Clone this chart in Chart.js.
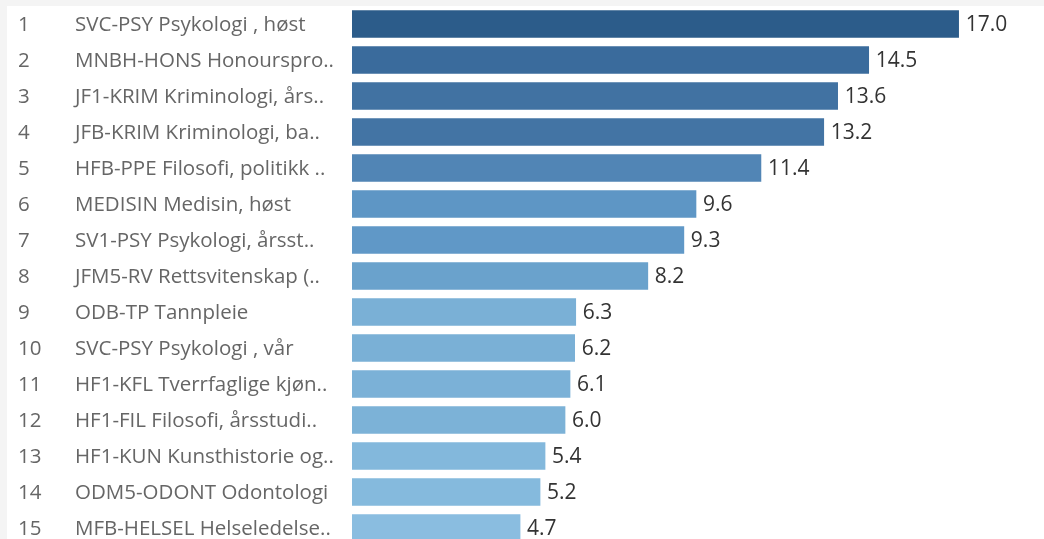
<!DOCTYPE html>
<html>
<head>
<meta charset="utf-8">
<script src="https://cdn.jsdelivr.net/npm/chart.js@4"></script>
<style>
  html, body { margin: 0; padding: 0; background: #f4f4f4; overflow: hidden; width: 1044px; height: 539px; }
  #wrap { position: absolute; left: 7px; top: 6px; width: 1037px; height: 540px; background: #ffffff; }
  canvas { display: block; }
</style>
</head>
<body>
<div id="wrap"><canvas id="c" width="1037" height="540"></canvas></div>
<script>
const ranks = ['1','2','3','4','5','6','7','8','9','10','11','12','13','14','15'];
const programs = [
  'SVC-PSY Psykologi , høst',
  'MNBH-HONS Honourspro..',
  'JF1-KRIM Kriminologi, års..',
  'JFB-KRIM Kriminologi, ba..',
  'HFB-PPE Filosofi, politikk ..',
  'MEDISIN Medisin, høst',
  'SV1-PSY Psykologi, årsst..',
  'JFM5-RV Rettsvitenskap (..',
  'ODB-TP Tannpleie',
  'SVC-PSY Psykologi , vår',
  'HF1-KFL Tverrfaglige kjøn..',
  'HF1-FIL Filosofi, årsstudi..',
  'HF1-KUN Kunsthistorie og..',
  'ODM5-ODONT Odontologi',
  'MFB-HELSEL Helseledelse..'
];
const values = [17.0, 14.48, 13.61, 13.22, 11.46, 9.64, 9.30, 8.29, 6.27, 6.24, 6.11, 5.97, 5.41, 5.27, 4.71];
const valueLabels = ['17.0','14.5','13.6','13.2','11.4','9.6','9.3','8.2','6.3','6.2','6.1','6.0','5.4','5.2','4.7'];

const barColors = ['#2c5c8a','#3a6b9c','#4172a2','#4374a4','#5185b5','#5e96c5','#6098c7','#6aa2cc',
                   '#7ab0d6','#7ab0d6','#7bb1d7','#7cb2d7','#83b8dc','#85badd','#8abde0'];

const LABEL_FONT = '20.5px "Open Sans", sans-serif';
const VALUE_FONT = '21px "Open Sans", sans-serif';

const textPlugin = {
  id: 'texts',
  afterDatasetsDraw(chart) {
    const ctx = chart.ctx;
    const y = chart.scales.y;
    const meta = chart.getDatasetMeta(0);
    ctx.save();
    ctx.textBaseline = 'middle';
    ctx.textAlign = 'left';
    programs.forEach((p, i) => {
      const py = y.getPixelForValue(i) + 1;
      ctx.font = LABEL_FONT;
      ctx.fillStyle = '#666666';
      ctx.fillText(ranks[i], 11, py);
      ctx.fillText(p, 68, py);
      const bar = meta.data[i];
      ctx.font = VALUE_FONT;
      ctx.fillStyle = '#333333';
      ctx.fillText(valueLabels[i], bar.x + 7, py);
    });
    ctx.restore();
  }
};

new Chart(document.getElementById('c'), {
  type: 'bar',
  data: {
    labels: programs,
    datasets: [{
      data: values,
      backgroundColor: barColors,
      borderWidth: 0,
      barThickness: 27
    }]
  },
  options: {
    indexAxis: 'y',
    responsive: false,
    animation: false,
    layout: { padding: { left: 345, right: 14, top: 0, bottom: 0 } },
    plugins: { legend: { display: false }, tooltip: { enabled: false } },
    scales: {
      x: { display: false, min: 0, max: 19 },
      y: { display: false, offset: true }
    }
  },
  plugins: [textPlugin]
});
</script>
</body>
</html>
